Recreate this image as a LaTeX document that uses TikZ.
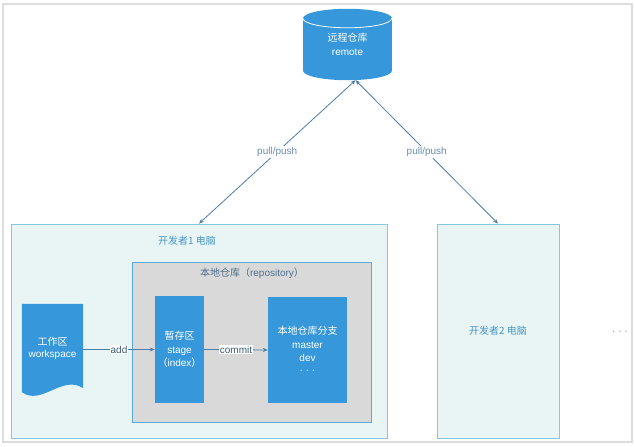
\documentclass[tikz,border=0pt]{standalone}
\usepackage{fontspec}
\setmainfont{Liberation Sans}
\newfontfamily\cjk{Noto Sans CJK SC}
\usetikzlibrary{arrows.meta,backgrounds,calc}
\pgfdeclarelayer{back}
\pgfsetlayers{back,background,main}
\definecolor{cblue}{HTML}{3697DA}
\definecolor{clink}{HTML}{4A7DA8}
\definecolor{clabel}{HTML}{6A8CAC}
\definecolor{cdevfill}{HTML}{E8F5F4}
\definecolor{cdevdraw}{HTML}{86C8DE}
\definecolor{crepofill}{HTML}{D9D9D9}
\definecolor{crepodraw}{HTML}{5AA8D8}
\definecolor{cdevtext}{HTML}{4A97C8}
\definecolor{crepotext}{HTML}{4F6F8F}
\definecolor{cframe}{HTML}{DDDDDD}
\definecolor{cflowtext}{HTML}{3D5A73}
\begin{document}
\begin{tikzpicture}[x=1bp,y=-1bp,
  font=\fontsize{10bp}{13.5bp}\selectfont,
  devbox/.style={rectangle, draw=cdevdraw, fill=cdevfill, line width=0.8bp, inner sep=0pt},
  repobox/.style={rectangle, draw=crepodraw, fill=crepofill, line width=0.8bp, inner sep=0pt},
  bluebox/.style={rectangle, fill=cblue, text=white, align=center, inner sep=0pt},
  plain/.style={inner sep=0pt, align=center},
  link/.style={draw=clink, line width=0.8bp, {Stealth[length=5bp,width=4bp]}-{Stealth[length=5bp,width=4bp]}},
  flow/.style={draw=clink, line width=0.8bp, -{Stealth[length=5bp,width=4bp]}},
  linklabel/.style={fill=white, inner sep=1bp, text=clabel},
  flowlabel/.style={fill=white, inner sep=1bp, text=cflowtext}]
\useasboundingbox (0,0) rectangle (635,447);

\begin{pgfonlayer}{back}
\draw[cframe, line width=1.2bp] (3,4) rectangle (632,442);
% developer 1 computer
\node[devbox, minimum width=376bp, minimum height=214bp] (dev1) at (199,331) {};
\node[plain, text=cdevtext] (dev1label) at (187,241) {\cjk 开发者1 电脑};
% local repository
\node[repobox, minimum width=239bp, minimum height=160bp] (repo) at (251.5,342) {};
\node[plain, text=crepotext] (repolabel) at (252,273) {{\cjk 本地仓库（}repository{\cjk ）}};
% developer 2 computer
\node[devbox, minimum width=122bp, minimum height=214bp, text=cdevtext] (dev2) at (498,331)
  {\cjk 开发者2 电脑};
\end{pgfonlayer}

% remote repository (cylinder)
\node[plain, minimum width=89bp, minimum height=71bp, text=white] (remote) at (347.5,44.5)
  {{\cjk 远程仓库}\\remote};
\begin{scope}[on background layer]
  \fill[cblue] ($(remote.north west)+(0,9.5)$) rectangle ($(remote.south east)+(0,-9.5)$);
  \fill[cblue] ($(remote.north)+(0,9.5)$) ellipse[x radius=44.5, y radius=9.5];
  \fill[cblue] ($(remote.south)+(0,-9.5)$) ellipse[x radius=44.5, y radius=9.5];
  \draw[white, line width=0.8bp] ($(remote.north west)+(0,9.5)$)
    arc[start angle=180, end angle=0, x radius=44.5, y radius=9.5];
\end{scope}

% workspace (document shape)
\node[plain, minimum width=61bp, minimum height=88bp, text=white] (ws) at (52.5,348)
  {{\cjk 工作区}\\[-1.5bp]workspace};
\begin{scope}[on background layer]
  \fill[cblue] (ws.north west) -- (ws.north east) -- ($(ws.south east)+(0,-4)$)
    .. controls ($(ws.south east)+(-21,-18)$) and ($(ws.south west)+(20,14)$) .. (ws.south west) -- cycle;
\end{scope}

% stage
\node[bluebox, minimum width=49bp, minimum height=107bp] (stage) at (179.5,349.5)
  {{\cjk 暂存区}\\stage\\{\cjk （}index{\cjk ）}};

% branches
\node[bluebox, minimum width=79bp, minimum height=106bp] (branch) at (307.5,350)
  {{\cjk 本地仓库分支}\\master\\dev\\[-2bp]· · ·};

\node[plain, text=gray] (more) at (620,333) {· · ·};

% connectors
\draw[link] ([xshift=8bp]remote.south) -- node[linklabel] {pull/push} (dev1.north);
\draw[link] ([xshift=8bp]remote.south) -- node[linklabel] {pull/push} (dev2.north);
\draw[flow] (ws.east |- stage.west) -- node[flowlabel] {add} (stage.west);
\draw[flow] (stage.east) -- node[flowlabel] {commit} (branch.west);
\end{tikzpicture}
\end{document}
